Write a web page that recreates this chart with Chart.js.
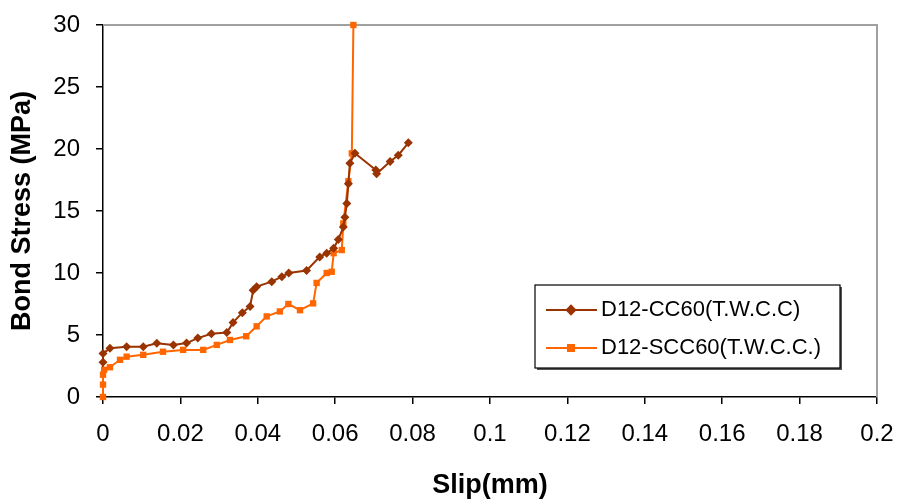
<!DOCTYPE html>
<html>
<head>
<meta charset="utf-8">
<script src="https://cdn.jsdelivr.net/npm/chart.js@4/dist/chart.umd.min.js"></script>
<style>
  html, body { margin: 0; padding: 0; background: #fff; }
  #wrap { width: 898px; height: 499px; }
</style>
</head>
<body>
<div id="wrap"><canvas id="chart" width="898" height="499"></canvas></div>
<script>
// data
var seriesNames = ['D12-CC60(T.W.C.C)', 'D12-SCC60(T.W.C.C.)'];

var ccSlip = [0, 0, 0.0018, 0.0061, 0.0104, 0.0139, 0.0182, 0.0216, 0.0245, 0.028, 0.032, 0.0336,
  0.036, 0.038, 0.0388, 0.0397, 0.0436, 0.0462, 0.048, 0.0526, 0.056, 0.0578, 0.0596, 0.0608,
  0.0621, 0.0625, 0.063, 0.0634, 0.0638, 0.0651, 0.0705, 0.0707, 0.0742, 0.0763, 0.0789];
var ccStress = [2.8, 3.5, 3.93, 4.06, 4.06, 4.33, 4.2, 4.35, 4.75, 5.1, 5.2, 6.0,
  6.8, 7.3, 8.6, 8.9, 9.3, 9.7, 10.0, 10.2, 11.3, 11.6, 12.0, 12.7,
  13.7, 14.5, 15.6, 17.2, 18.85, 19.65, 18.3, 18.0, 19.0, 19.5, 20.5];

var sccSlip = [0, 0, 0, 0.0003, 0.0018, 0.0044, 0.0061, 0.0104, 0.0155, 0.0207, 0.0259, 0.0294,
  0.0328, 0.037, 0.0397, 0.0423, 0.0457, 0.0479, 0.0509, 0.0543, 0.0552, 0.0578, 0.0591,
  0.0596, 0.0617, 0.0621, 0.0634, 0.0643, 0.0647];
var sccStress = [0, 1.0, 1.8, 2.2, 2.4, 3.0, 3.25, 3.4, 3.65, 3.8, 3.8, 4.2,
  4.6, 4.9, 5.7, 6.5, 6.9, 7.5, 7.0, 7.55, 9.2, 10.0, 10.1,
  11.6, 11.85, 14.0, 17.4, 19.65, 30];

var xTicks = [0, 0.02, 0.04, 0.06, 0.08, 0.1, 0.12, 0.14, 0.16, 0.18, 0.2];
var yTicks = [0, 5, 10, 15, 20, 25, 30];

var colors = ['#993300', '#ff6600'];
var FONT = "'Liberation Sans', Arial, sans-serif";

function toPoints(xs, ys) {
  var pts = [];
  for (var i = 0; i < xs.length; i++) pts.push({x: xs[i], y: ys[i]});
  return pts;
}

// gray frame on top/right like the excel plot area
var framePlugin = {
  id: 'frame',
  beforeDatasetsDraw: function (chart) {
    var a = chart.chartArea, ctx = chart.ctx;
    ctx.save();
    ctx.strokeStyle = '#a0a0a0';
    ctx.lineWidth = 2;
    ctx.beginPath();
    ctx.moveTo(a.left, a.top);
    ctx.lineTo(a.right, a.top);
    ctx.lineTo(a.right, a.bottom);
    ctx.stroke();
    ctx.restore();
  }
};

// boxed legend inside the plot
var boxLegend = {
  id: 'boxLegend',
  afterDraw: function (chart) {
    var a = chart.chartArea, ctx = chart.ctx;
    var x0 = a.left + 432, y0 = a.top + 260, w = 305, h = 83;
    ctx.save();
    ctx.fillStyle = '#fff';
    ctx.fillRect(x0, y0, w, h);
    ctx.strokeStyle = '#555';
    ctx.lineWidth = 2;
    ctx.beginPath();
    ctx.moveTo(x0 + w + 1, y0 + 2);
    ctx.lineTo(x0 + w + 1, y0 + h + 1);
    ctx.lineTo(x0 + 2, y0 + h + 1);
    ctx.stroke();
    ctx.strokeStyle = '#000';
    ctx.lineWidth = 1.2;
    ctx.strokeRect(x0, y0, w, h);
    ctx.font = '22px ' + FONT;
    ctx.textBaseline = 'middle';
    ctx.textAlign = 'left';
    chart.data.datasets.forEach(function (ds, i) {
      var cy = y0 + 25 + i * 38;
      ctx.strokeStyle = ds.borderColor;
      ctx.lineWidth = 2;
      ctx.beginPath();
      ctx.moveTo(x0 + 11, cy);
      ctx.lineTo(x0 + 62, cy);
      ctx.stroke();
      ctx.fillStyle = ds.borderColor;
      ctx.save();
      ctx.translate(x0 + 36, cy);
      if (ds.pointStyle === 'rectRot') ctx.rotate(Math.PI / 4);
      ctx.fillRect(-4, -4, 8, 8);
      ctx.restore();
      ctx.fillStyle = '#000';
      ctx.fillText(ds.label, x0 + 66, cy);
    });
    ctx.restore();
  }
};

new Chart(document.getElementById('chart'), {
  type: 'scatter',
  data: {
    datasets: [
      {
        label: seriesNames[0],
        data: toPoints(ccSlip, ccStress),
        borderColor: colors[0],
        backgroundColor: colors[0],
        showLine: true,
        borderWidth: 2,
        pointStyle: 'rectRot',
        pointRadius: 4.5,
        pointBorderWidth: 0,
        clip: false
      },
      {
        label: seriesNames[1],
        data: toPoints(sccSlip, sccStress),
        borderColor: colors[1],
        backgroundColor: colors[1],
        showLine: true,
        borderWidth: 2,
        pointStyle: 'rect',
        pointRadius: 4.5,
        pointBorderWidth: 0,
        clip: false
      }
    ]
  },
  options: {
    responsive: false,
    animation: false,
    devicePixelRatio: 1,
    layout: { padding: { top: 25, right: 21, left: 0, bottom: 0 } },
    plugins: {
      legend: { display: false },
      tooltip: { enabled: false }
    },
    scales: {
      x: {
        type: 'linear',
        min: 0,
        max: 0.2,
        afterBuildTicks: function (scale) {
          scale.ticks = xTicks.map(function (v) { return {value: v}; });
        },
        afterFit: function (scale) {
          scale.height = 102;
          scale.paddingLeft = 0;
          scale.paddingRight = 0;
        },
        grid: { drawOnChartArea: false, drawTicks: true, tickLength: 7, color: '#000', lineWidth: 1.5 },
        border: { display: true, color: '#000', width: 1.5 },
        ticks: {
          color: '#000',
          font: { family: FONT, size: 24 },
          padding: 16,
          maxRotation: 0,
          autoSkip: false,
          callback: function (v) { return String(v); }
        },
        title: {
          display: true,
          text: 'Slip(mm)',
          color: '#000',
          font: { family: FONT, size: 27, weight: 'bold', lineHeight: 1 },
          padding: { top: 0, bottom: 0 }
        }
      },
      y: {
        min: 0,
        max: 30,
        afterBuildTicks: function (scale) {
          scale.ticks = yTicks.map(function (v) { return {value: v}; });
        },
        afterFit: function (scale) {
          scale.width = 103;
          scale.paddingTop = 0;
          scale.paddingBottom = 0;
        },
        grid: { drawOnChartArea: false, drawTicks: true, tickLength: 7, color: '#000', lineWidth: 1.5 },
        border: { display: true, color: '#000', width: 1.5 },
        ticks: {
          color: '#000',
          font: { family: FONT, size: 24 },
          padding: 16,
          autoSkip: false
        },
        title: {
          display: true,
          text: 'Bond Stress (MPa)',
          color: '#000',
          font: { family: FONT, size: 27, weight: 'bold', lineHeight: 1 },
          padding: { top: 9, bottom: 0 }
        }
      }
    }
  },
  plugins: [framePlugin, boxLegend]
});
</script>
</body>
</html>
